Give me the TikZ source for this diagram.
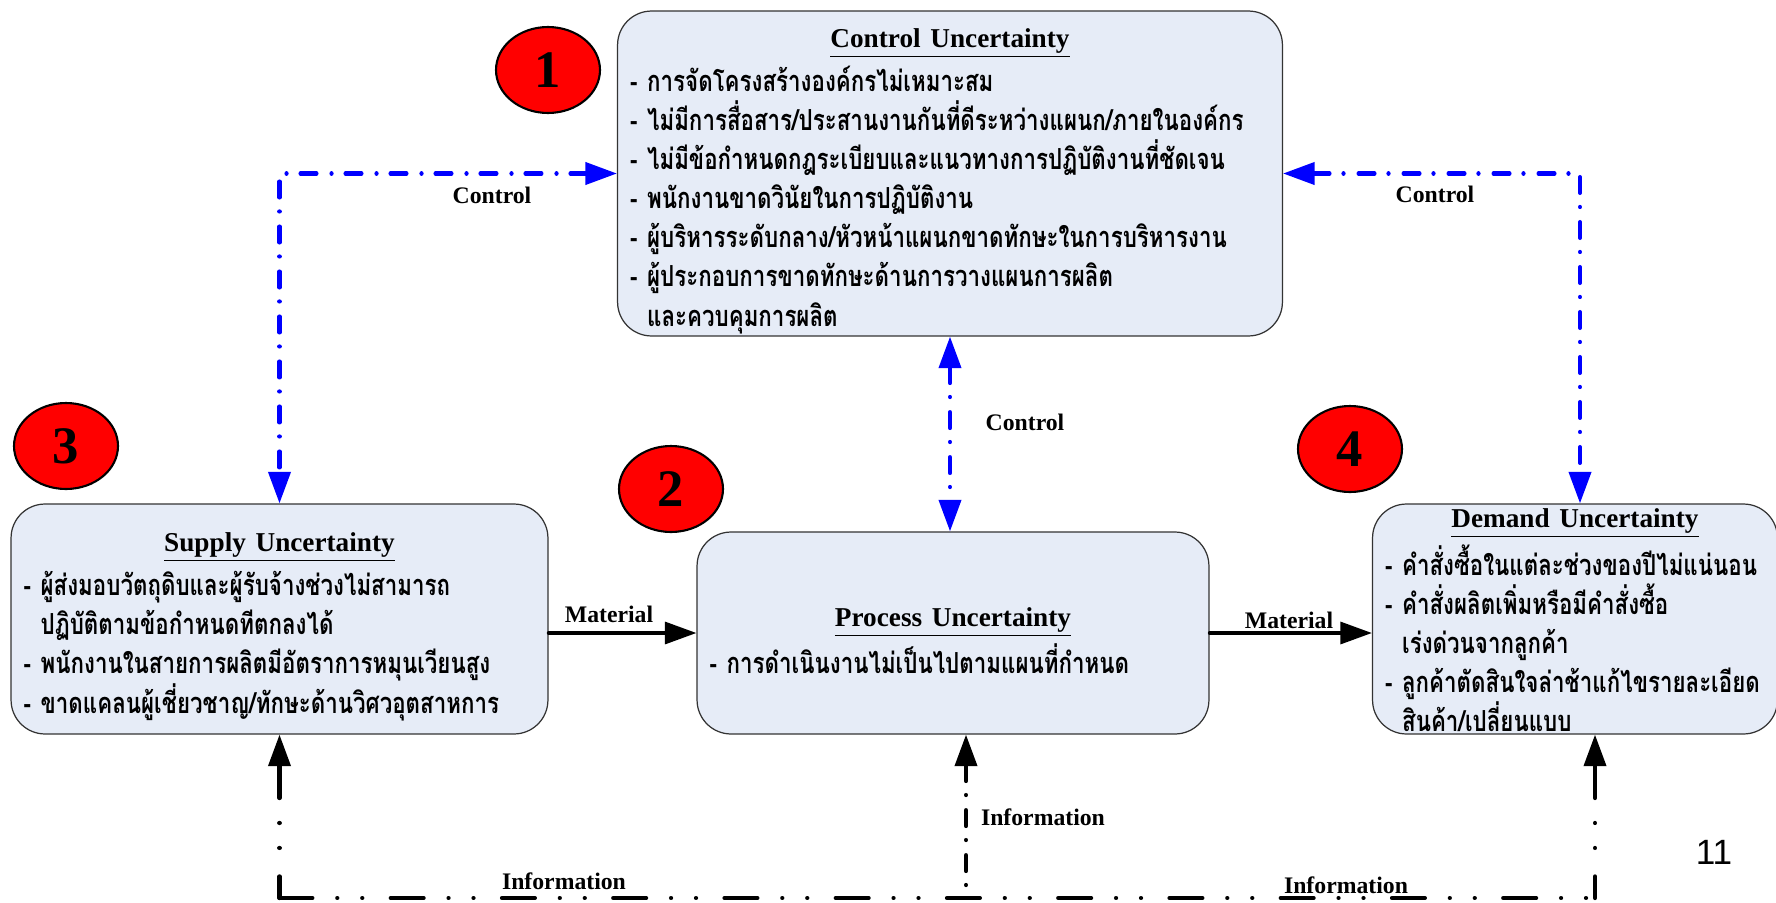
\documentclass[tikz,border=0pt]{standalone}
\usepackage{fontspec}
\setmainfont{Liberation Serif}
\newfontfamily\thaifont[Script=Thai,FakeStretch=0.77]{Loma}
\newfontfamily\slidefont{Liberation Sans}
\usetikzlibrary{positioning,arrows.meta,calc,shapes.geometric}
\definecolor{boxfill}{RGB}{230,236,247}
\setlength{\parindent}{0pt}
\newcommand{\boxtitle}[2][19.5pt]{{\centering\rmfamily\bfseries\fontsize{15.5}{22}\selectfont\rule{0pt}{#1}\underline{#2}\par}\vspace{3pt}}
\newcommand{\cont}{\hphantom{-~}}

\begin{document}
\begin{tikzpicture}[
  x=0.02cm, y=-0.02cm,
  uncert/.style={draw=black!80, line width=0.7pt, rounded corners=0.68cm, fill=boxfill, align=left, inner xsep=0.25cm, inner ysep=0pt, font=\thaifont\bfseries\fontsize{16.5}{22.2}\selectfont},
  badge/.style={draw, ellipse, line width=1.2pt, fill=red, minimum width=2.08cm, minimum height=1.72cm, inner sep=0pt, font=\rmfamily\bfseries\fontsize{30}{30}\selectfont},
  lbl/.style={font=\rmfamily\bfseries\fontsize{13.5}{16}\selectfont},
  ctrl/.style={{Triangle[length=18pt,width=12.5pt]}-{Triangle[length=18pt,width=12.5pt]}, blue, line width=2.4pt, line cap=round, dash pattern=on 9pt off 8pt on 0.01pt off 8.6pt},
  flow/.style={-{Triangle[length=18pt,width=12.5pt]}, line width=2pt, line cap=round},
  info/.style={line width=2.4pt, line cap=round, dash pattern=on 18.7pt off 14.2pt on 0.01pt off 14.2pt on 0.01pt off 16.2pt},
  infoarrow/.style={info, {Triangle[length=18pt,width=12.5pt]}-}
]
\useasboundingbox (0,0) rectangle (1776,903);

% ================= BOXES =================
\node[uncert, minimum width=13.3cm, minimum height=6.5cm, text width=12.8cm] (control) at (950,173.5) {
\boxtitle{Control Uncertainty}
-~การจัดโครงสร้างองค์กรไม่เหมาะสม\\
-~ไม่มีการสื่อสาร/ประสานงานกันที่ดีระหว่างแผนก/ภายในองค์กร\\
-~ไม่มีข้อกำหนดกฎระเบียบและแนวทางการปฏิบัติงานที่ชัดเจน\\
-~พนักงานขาดวินัยในการปฏิบัติงาน\\
-~ผู้บริหารระดับกลาง/หัวหน้าแผนกขาดทักษะในการบริหารงาน\\
-~ผู้ประกอบการขาดทักษะด้านการวางแผนการผลิต\\
\cont และควบคุมการผลิต
};
\node[uncert, minimum width=10.74cm, minimum height=4.6cm, text width=10.24cm] (supply) at (279.5,619) {
\boxtitle{Supply Uncertainty}
-~ผู้ส่งมอบวัตถุดิบและผู้รับจ้างช่วงไม่สามารถ\\
\cont ปฏิบัติตามข้อกำหนดทีตกลงได้\\
-~พนักงานในสายการผลิตมีอัตราการหมุนเวียนสูง\\
-~ขาดแคลนผู้เชี่ยวชาญ/ทักษะด้านวิศวอุตสาหการ
};
\node[uncert, minimum width=10.24cm, minimum height=4.04cm, text width=9.74cm] (process) at (953,633) {
\boxtitle{Process Uncertainty}
-~การดำเนินงานไม่เป็นไปตามแผนที่กำหนด
};
\node[uncert, minimum width=7.96cm, minimum height=4.6cm, text width=7.6cm] (demand) at (1575,619) {
\boxtitle[12pt]{Demand Uncertainty}
-~คำสั่งซื้อในแต่ละช่วงของปีไม่แน่นอน\\
-~คำสั่งผลิตเพิ่มหรือมีคำสั่งซื้อ\\
\cont เร่งด่วนจากลูกค้า\\
-~ลูกค้าตัดสินใจล่าช้าแก้ไขรายละเอียด\\
\cont สินค้า/เปลี่ยนแบบ
};

% ================= NUMBERS =================
\node[badge] (n1) at (548,70) {1};
\node[badge] (n2) at (671,489) {2};
\node[badge] (n3) at (66,446) {3};
\node[badge] (n4) at (1350,449) {4};

% ================= CONTROL =================
\draw[ctrl] (control.west) -| (supply.north);
\draw[ctrl] (control.east) -| ([xshift=0.1cm]demand.north);
\draw[ctrl] (control.south) -- (control.south |- process.north);
\node[lbl] (ctlA) at (492,195) {Control};
\node[lbl] (ctlB) at (1435,194) {Control};
\node[lbl] (ctlC) at (1025,422) {Control};

% ================= MATERIAL =================
\draw[flow] (supply.east |- process.west) -- (process.west);
\draw[flow] (process.east) -- (demand.west |- process.east);
\node[lbl] (matA) at (609,614) {Material};
\node[lbl] (matB) at (1289,620) {Material};

% ================= INFORMATION =================
\coordinate (infoS) at (279.5,898);
\coordinate (infoP) at (966,898);
\coordinate (infoD) at (1595,898);
\draw[info] (infoS) -- (infoD);
\draw[infoarrow] (supply.south) -- (infoS);
\draw[infoarrow, dash pattern=on 9pt off 8pt on 0.01pt off 8.6pt] (process.south -| infoP) -- (infoP);
\draw[infoarrow] (demand.south -| infoD) -- (infoD);
\node[lbl] (infA) at (564,881) {Information};
\node[lbl] (infB) at (1043,817) {Information};
\node[lbl] (infC) at (1346,885) {Information};

\node[font=\slidefont\fontsize{20}{20}\selectfont] (pageno) at (1714,852) {11};

\end{tikzpicture}
\end{document}
